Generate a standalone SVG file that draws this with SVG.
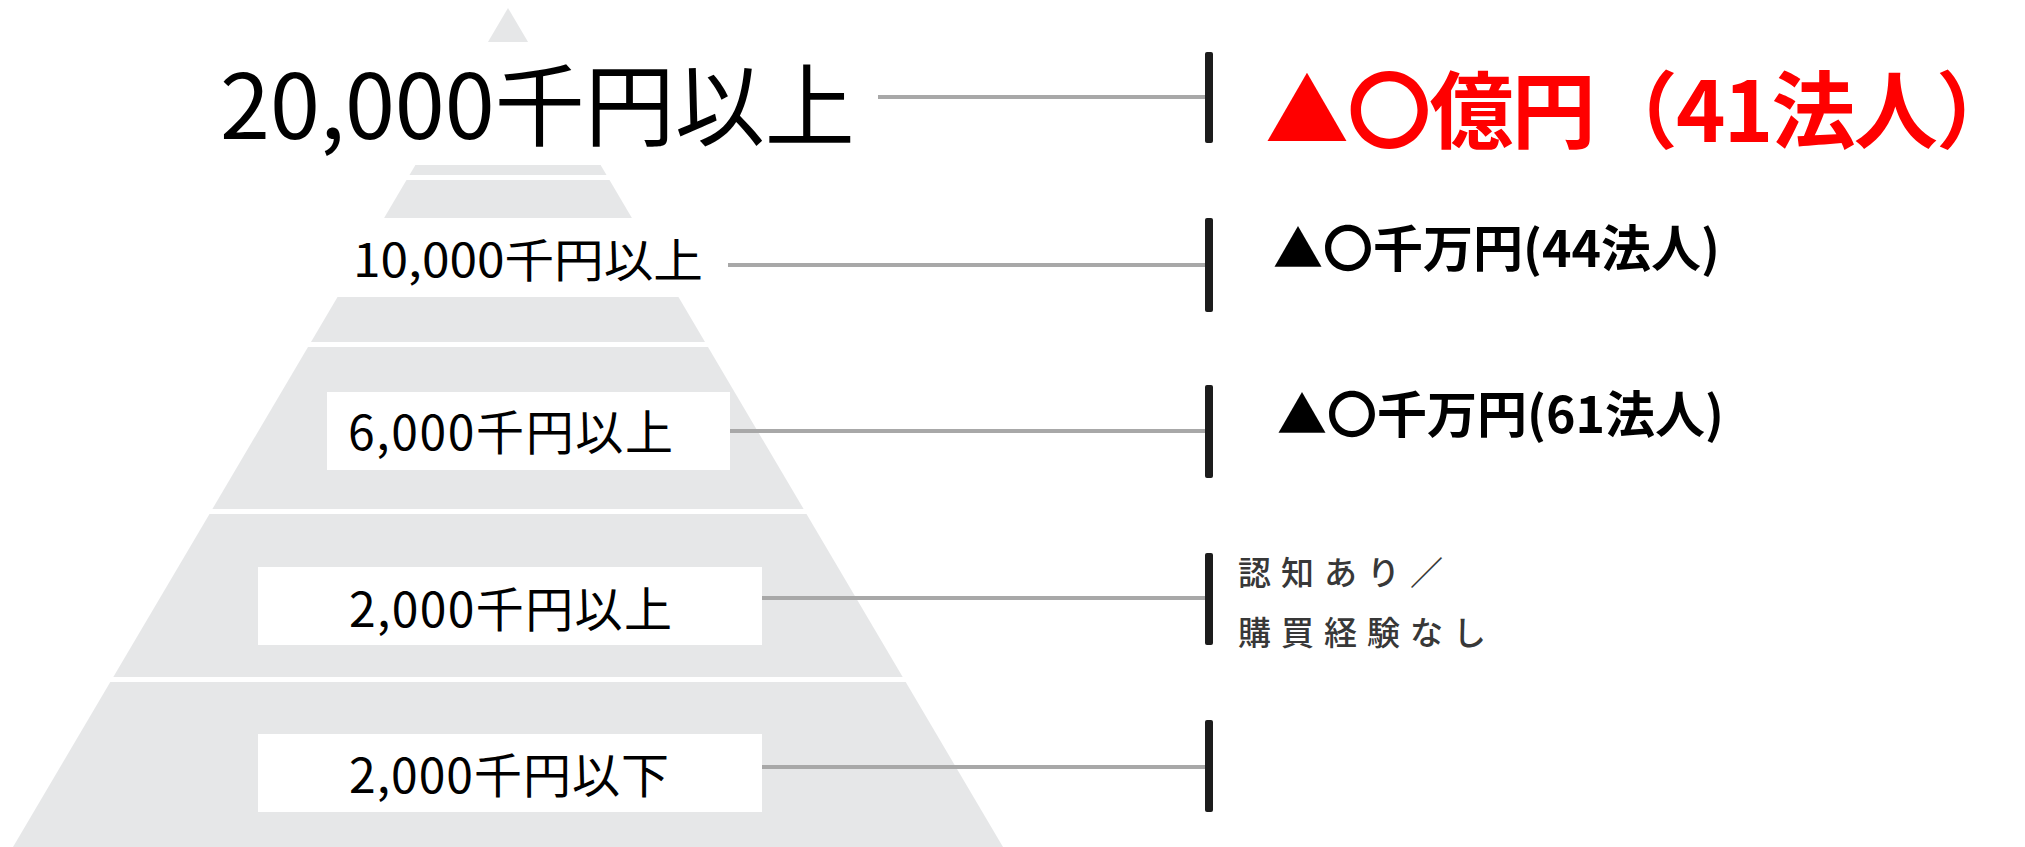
<svg xmlns="http://www.w3.org/2000/svg" width="2025" height="847" viewBox="0 0 2025 847">
<style>
.tier{fill:#e6e7e8}
.box{fill:#ffffff}
.lbl{font-family:"Noto Sans CJK JP","Noto Sans",sans-serif;fill:#000}
.conn{stroke:#a8a8a8;stroke-width:4;fill:none}
.bar{fill:#1c1c1c}
.val{font-family:"Noto Sans CJK JP","Noto Sans",sans-serif;font-weight:700;fill:#000}
.red{fill:#ff0000}
.note{font-family:"Noto Sans CJK JP","Noto Sans",sans-serif;font-weight:500;fill:#383838;font-size:33px;letter-spacing:10px}
</style>
<rect width="2025" height="847" fill="#ffffff"/>
<g id="pyramid">
<polygon class="tier" points="508,8 606.5,175 409.5,175"/>
<polygon class="tier" points="406.5,180 609.5,180 705,342 311,342"/>
<polygon class="tier" points="308,347 708,347 803.6,509 212.4,509"/>
<polygon class="tier" points="209.5,514 806.5,514 902.7,677 113.3,677"/>
<polygon class="tier" points="110.3,682 905.7,682 1003,847 13,847"/>
</g>
<g id="tier1-label">
<rect class="box" x="150" y="42" width="725" height="123"/>
<text class="lbl" x="220" y="139" font-size="90">20,000千円以上</text>
</g>
<g id="tier2-label">
<rect class="box" x="300" y="218" width="428" height="79"/>
<text class="lbl" x="353" y="277" font-size="46" textLength="350" lengthAdjust="spacingAndGlyphs">10,000千円以上</text>
</g>
<g id="tier3-label">
<rect class="box" x="327" y="392" width="403" height="78"/>
<text class="lbl" x="348" y="450" font-size="48" textLength="325">6,000千円以上</text>
</g>
<g id="tier4-label">
<rect class="box" x="258" y="567" width="504" height="78"/>
<text class="lbl" x="349" y="627" font-size="48" textLength="323">2,000千円以上</text>
</g>
<g id="tier5-label">
<rect class="box" x="258" y="734" width="504" height="78"/>
<text class="lbl" x="349" y="793" font-size="48" textLength="320">2,000千円以下</text>
</g>
<g id="connectors">
<line class="conn" x1="878" y1="97" x2="1207" y2="97" stroke="#c4c4c4"/>
<line class="conn" x1="728" y1="265" x2="1207" y2="265"/>
<line class="conn" x1="730" y1="431" x2="1207" y2="431"/>
<line class="conn" x1="762" y1="598" x2="1207" y2="598"/>
<line class="conn" x1="762" y1="767" x2="1207" y2="767"/>
<rect class="bar" x="1205" y="52" width="8" height="91" rx="2"/>
<rect class="bar" x="1205" y="218" width="8" height="94" rx="2"/>
<rect class="bar" x="1205" y="385" width="8" height="93" rx="2"/>
<rect class="bar" x="1205" y="553" width="8" height="92" rx="2"/>
<rect class="bar" x="1205" y="720" width="8" height="92" rx="2"/>
</g>
<g id="value1">
<text class="val red" x="1265" y="142" font-size="84" textLength="755">▲〇億円（41法人）</text>
</g>
<g id="value2">
<text class="val" x="1273" y="267" font-size="50">▲〇千万円(44法人)</text>
</g>
<g id="value3">
<text class="val" x="1277" y="433" font-size="50">▲〇千万円(61法人)</text>
</g>
<g id="value4">
<text class="note" x="1238" y="585">認知あり／</text>
<text class="note" x="1238" y="645">購買経験なし</text>
</g>
</svg>
